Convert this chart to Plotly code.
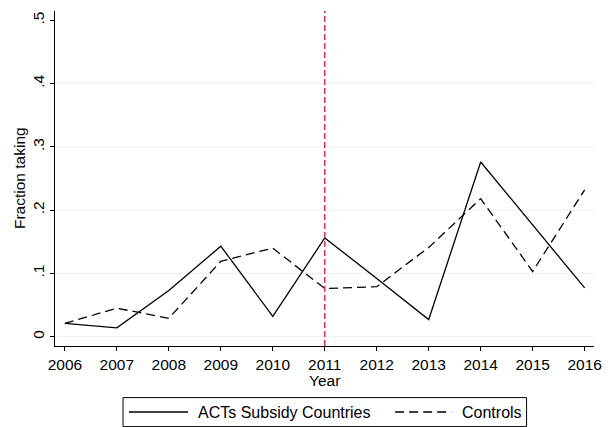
import plotly.graph_objects as go

years = [2006, 2007, 2008, 2009, 2010, 2011, 2012, 2013, 2014, 2015, 2016]
acts_subsidy = [0.021, 0.014, 0.073, 0.143, 0.032, 0.156, 0.092, 0.027, 0.276, 0.176, 0.077]
controls = [0.021, 0.045, 0.029, 0.119, 0.140, 0.076, 0.079, 0.141, 0.218, 0.103, 0.232]
y_ticks = [0, 0.1, 0.2, 0.3, 0.4, 0.5]
y_tick_labels = ["0", ".1", ".2", ".3", ".4", ".5"]
grid_values = [0, 0.1, 0.2, 0.3, 0.4]
policy_year = 2011
series_names = ["ACTs Subsidy Countries", "Controls"]

FONT = "Liberation Sans, Arial, sans-serif"
W, H = 611, 427
L, R, T, B = 55, 9.3, 10.7, 81.3
pw = W - L - R
ph = H - T - B

def px_x(p):
    return (p - L) / pw

def px_y(p):
    return (H - B - p) / ph

fig = go.Figure()
fig.add_trace(go.Scatter(x=years, y=acts_subsidy, mode="lines", name=series_names[0],
                         line=dict(color="black", width=1.3), showlegend=False))
fig.add_trace(go.Scatter(x=years, y=controls, mode="lines", name=series_names[1],
                         line=dict(color="black", width=1.3, dash="9px,5px"), showlegend=False))

shapes = []
for g in grid_values:
    shapes.append(dict(type="line", xref="paper", yref="y", x0=0, x1=1, y0=g, y1=g,
                       line=dict(color="#eaf2f3", width=1), layer="below"))
shapes.append(dict(type="line", xref="x", yref="paper", x0=policy_year, x1=policy_year, y0=0, y1=1,
                   line=dict(color="#dc3566", width=1.6, dash="6px,3px")))
# legend box
shapes.append(dict(type="rect", xref="paper", yref="paper",
                   x0=px_x(124), x1=px_x(533.3), y0=px_y(426.3), y1=px_y(397.3),
                   line=dict(color="black", width=1), fillcolor="white"))
ly = px_y(411.7)
shapes.append(dict(type="line", xref="paper", yref="paper", x0=px_x(130), x1=px_x(190), y0=ly, y1=ly,
                   line=dict(color="black", width=1.3)))
shapes.append(dict(type="line", xref="paper", yref="paper", x0=px_x(400), x1=px_x(457), y0=ly, y1=ly,
                   line=dict(color="black", width=1.3, dash="9px,5px")))

annotations = [
    dict(text=series_names[0], xref="paper", yref="paper", x=px_x(198), y=ly, xanchor="left",
         yanchor="middle", showarrow=False, font=dict(family=FONT, size=16, color="black")),
    dict(text=series_names[1], xref="paper", yref="paper", x=px_x(465.5), y=ly, xanchor="left",
         yanchor="middle", showarrow=False, font=dict(family=FONT, size=16, color="black")),
    dict(text="Year", xref="paper", yref="paper", x=0.5, y=px_y(380), xanchor="center",
         yanchor="middle", showarrow=False, font=dict(family=FONT, size=15.5, color="black")),
    dict(text="Fraction taking", xref="paper", yref="paper", x=px_x(19), y=0.5, xanchor="center",
         yanchor="middle", textangle=-90, showarrow=False, font=dict(family=FONT, size=15.5, color="black")),
]

fig.update_layout(
    width=W, height=H,
    margin=dict(l=L, r=R, t=T, b=B, pad=0),
    paper_bgcolor="white", plot_bgcolor="white",
    font=dict(family=FONT, size=15.5, color="black"),
    shapes=shapes, annotations=annotations,
    showlegend=False,
)
fig.update_xaxes(range=[2005.81, 2016.18], tickmode="array", tickvals=years,
                 ticktext=[str(y) for y in years], ticks="outside", ticklen=4, tickcolor="black",
                 showline=True, linecolor="black", linewidth=1, showgrid=False, zeroline=False,
                 tickfont=dict(family=FONT, size=15.5, color="black"))
fig.update_yaxes(range=[-0.0148, 0.5147], tickmode="array", tickvals=y_ticks, ticktext=y_tick_labels,
                 tickangle=-90, ticks="outside", ticklen=4, tickcolor="black",
                 showline=True, linecolor="black", linewidth=1, showgrid=False, zeroline=False,
                 tickfont=dict(family=FONT, size=15.5, color="black"))

fig.write_html("out.html", config={"displayModeBar": False},
               post_script="document.body.style.margin='0';document.body.style.overflow='hidden';")
